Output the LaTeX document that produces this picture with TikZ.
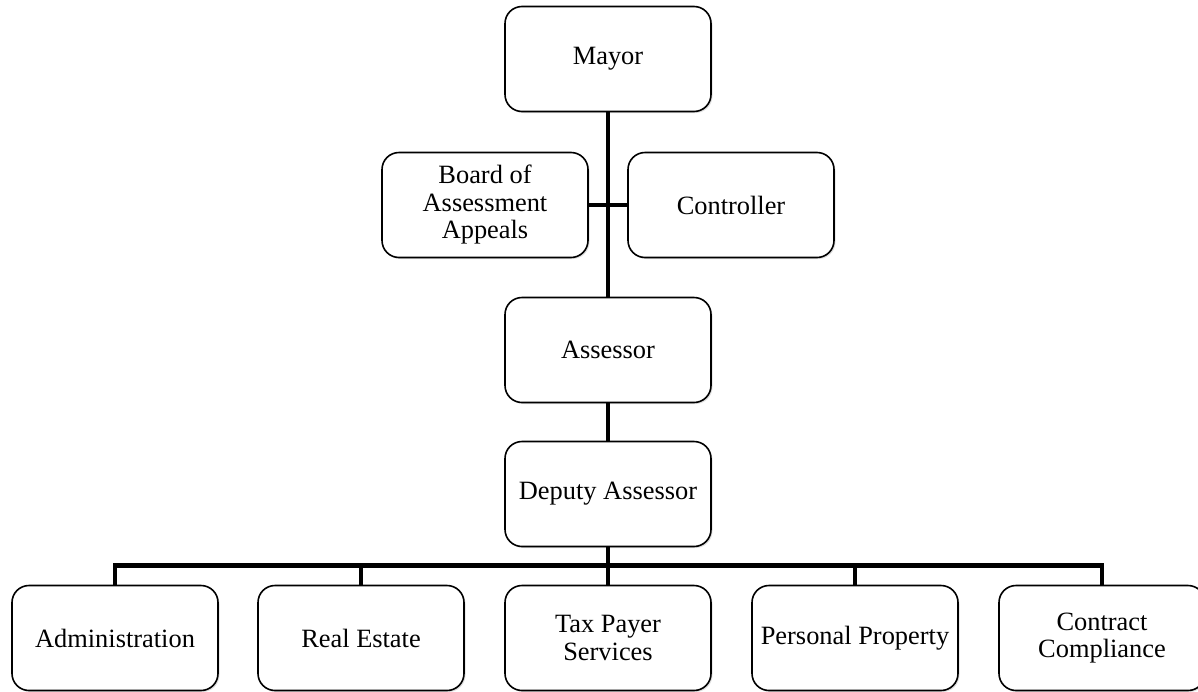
\documentclass[tikz,border=0pt]{standalone}
\usepackage{fontspec}
\setmainfont{Liberation Serif}
\usetikzlibrary{positioning, shadows}

\begin{document}
\begin{tikzpicture}[x=1pt, y=-1pt,
	office/.style={draw, line width=1.6pt, rounded corners=17pt, fill=white,
		minimum width=206pt, minimum height=105pt, align=center,
		font=\fontsize{26.4}{27.5}\selectfont,
		drop shadow={opacity=0.25, shadow xshift=1.5pt, shadow yshift=-1.5pt}},
	link/.style={line width=4.5pt}]
		
		%//page frame, 1198 x 691
		\useasboundingbox (0,0) rectangle (1198,691);
		
		\node [office] (mayor) at (608,59) {Mayor};
		\node [office] (board) at (485,205) {Board of\\Assessment\\Appeals};
		\node [office] (ctrl) at (731,205) {Controller};
		\node [office] (assessor) at (608,350) {Assessor};
		\node [office] (deputy) at (608,494) {Deputy Assessor};
		
		\node [office] (admin) at (115,638) {Administration};
		\node [office] (estate) at (361,638) {Real Estate};
		\node [office] (tps) at (608,638) {Tax Payer\\Services};
		\node [office] (pp) at (855,638) {Personal Property};
		\node [office] (cc) at (1102,638) {Contract\\Compliance};
		
		%//connectors
		\draw [link] (mayor.south) -- (assessor.north);
		\draw [link] (board.east) -- (ctrl.west);
		\draw [link] (assessor.south) -- (deputy.north);
		\draw [link] (deputy.south) -- (tps.north);
		
		\path (admin.north) ++(0,-19) coordinate (bar);
		\draw [link] (admin.north) -- (bar) -| (cc.north);
		\foreach \n in {estate, pp}
		\draw [link] (\n.north) -- (\n.north |- bar);
		\end{tikzpicture}
\end{document}
